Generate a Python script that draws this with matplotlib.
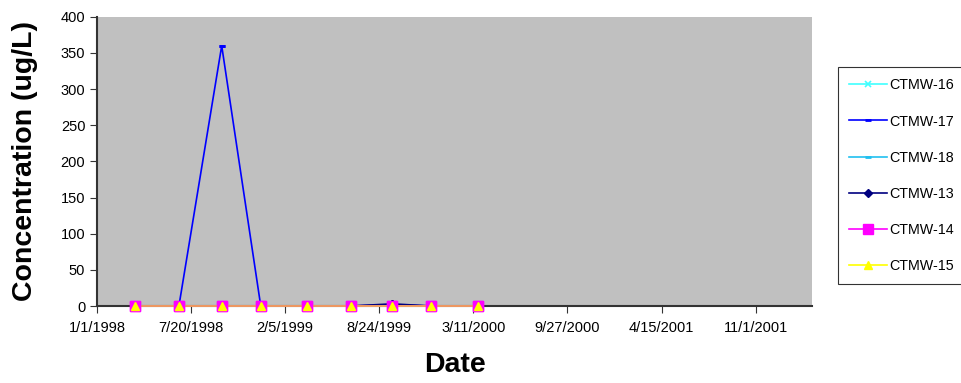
import matplotlib
matplotlib.use("Agg")
import matplotlib.pyplot as plt
from matplotlib.lines import Line2D
import datetime as dt

plt.rcParams['font.family'] = ['Liberation Sans', 'DejaVu Sans']

dates = ["1998-03-23", "1998-06-24", "1998-09-23", "1998-12-15", "1999-03-23",
         "1999-06-24", "1999-09-21", "1999-12-12", "2000-03-20"]
ctmw16 = [0, 0, 0, 0, 0, 0, 0, 0, 0]
ctmw17 = [0, 0, 360, 0, 0, 0, 2, 0, 0]
ctmw18 = [0, 0, 0, 0, 0, 0, 0, 0, 0]
ctmw13 = [0, 0, 0, 0, 0, 0, 3, 0, 0]
ctmw14 = [0, 0, 0, 0, 0, 0, 0, 0, 0]
ctmw15 = [0, 0, 0, 0, 0, 0, 0, 0, 0]
series_names = ["CTMW-16", "CTMW-17", "CTMW-18", "CTMW-13", "CTMW-14", "CTMW-15"]
xtick_labels = ["1/1/1998", "7/20/1998", "2/5/1999", "8/24/1999", "3/11/2000",
                "9/27/2000", "4/15/2001", "11/1/2001"]

x = [dt.datetime.strptime(d, "%Y-%m-%d") for d in dates]
xticks = [dt.datetime.strptime(s, "%m/%d/%Y") for s in xtick_labels]

fig = plt.figure(figsize=(9.61, 3.83), dpi=100)
ax = fig.add_axes([0.101, 0.201, 0.744, 0.755])
ax.set_facecolor('#c0c0c0')

styles = [
    dict(color='#40ffff', marker='x', ms=5, mew=1.2),
    dict(color='#0000ff', marker='_', ms=5, mew=2),
    dict(color='#20c0f0', marker='_', ms=5, mew=2),
    dict(color='#000080', marker='D', ms=4),
    dict(color='#ff00ff', marker='s', ms=6.5),
    dict(color='#ffff00', marker='^', ms=6),
]
data = [ctmw16, ctmw17, ctmw18, ctmw13, ctmw14, ctmw15]
handles = []
for name, y, st in zip(series_names, data, styles):
    alpha = 0.7 if name == "CTMW-15" else 1.0
    ax.plot(x, y, lw=1.2, color=st['color'], marker=st['marker'], ms=st['ms'],
            mew=st.get('mew', 1), mfc=st['color'], mec=st['color'],
            clip_on=False, zorder=3, alpha=alpha)
    ax.plot(x, y, lw=0, marker=st['marker'], ms=st['ms'], mew=st.get('mew', 1),
            mfc=st['color'], mec=st['color'], clip_on=False, zorder=4)
    handles.append(Line2D([], [], lw=1.2, color=st['color'], marker=st['marker'],
                          ms=st['ms'], mew=st.get('mew', 1), mfc=st['color'],
                          mec=st['color'], label=name))

ax.set_xlim(dt.datetime(1998, 1, 1), dt.datetime(1998, 1, 1) + dt.timedelta(days=1520))
ax.set_ylim(0, 400)
ax.set_yticks(range(0, 401, 50))
ax.set_xticks(xticks)
ax.set_xticklabels(xtick_labels)
ax.tick_params(axis='both', labelsize=10.5, direction='out', length=5, color='#333333')
ax.tick_params(axis='x', pad=6)

for s in ['top', 'right']:
    ax.spines[s].set_visible(False)
for s in ['left', 'bottom']:
    ax.spines[s].set_color('#333333')
    ax.spines[s].set_linewidth(1.5)

ax.set_xlabel("Date", fontsize=20.5, fontweight='bold', labelpad=12)
ax.set_ylabel("Concentration (ug/L)", fontsize=20.5, fontweight='bold', labelpad=16)

leg = fig.legend(handles=handles, loc='upper left', bbox_to_anchor=(0.872, 0.825),
                 fontsize=10.3, frameon=True, fancybox=False, edgecolor='black',
                 labelspacing=1.54, handlelength=2.6, handletextpad=0.15,
                 borderpad=0.8, borderaxespad=0)
leg.get_frame().set_linewidth(0.8)

fig.savefig("out.png", dpi=100)
